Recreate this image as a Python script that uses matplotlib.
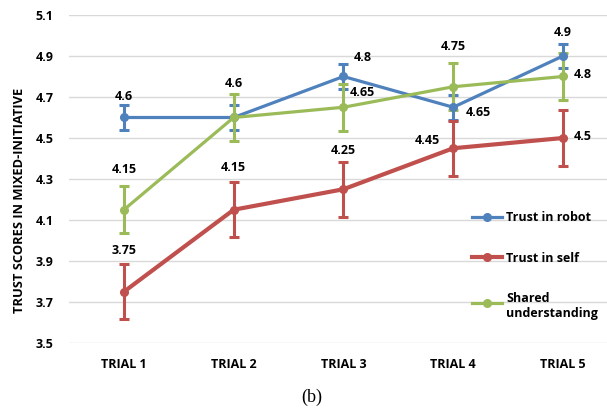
import numpy as np
import matplotlib
matplotlib.use("Agg")
import matplotlib.pyplot as plt
from matplotlib.lines import Line2D
from matplotlib.legend_handler import HandlerLine2D

trials = ["TRIAL 1", "TRIAL 2", "TRIAL 3", "TRIAL 4", "TRIAL 5"]
robot = [4.6, 4.6, 4.8, 4.65, 4.9]
selfs = [3.75, 4.15, 4.25, 4.45, 4.5]
shared = [4.15, 4.6, 4.65, 4.75, 4.8]
robot_err = [0.06, 0.06, 0.06, 0.06, 0.06]
self_err = [0.135, 0.135, 0.135, 0.135, 0.135]
shared_err = [0.115, 0.115, 0.115, 0.115, 0.115]
yticks = [3.5, 3.7, 3.9, 4.1, 4.3, 4.5, 4.7, 4.9, 5.1]

# label offsets in pixels (dx, dy)
robot_off = [(0, 21), None, (19, 19), (25, -5), (0, 23)]
self_off = [(0, 41), (0, 42), (0, 39), (-26, 8), (20, 2)]
shared_off = [(0, 40), (0, 34), (19, 15), (0, 40), (20, 2)]

plt.rcParams['font.family'] = ['Open Sans', 'DejaVu Sans']
plt.rcParams['font.weight'] = 'bold'
plt.rcParams['font.size'] = 9

W, H = 607, 409
fig = plt.figure(figsize=(W/100, H/100), dpi=100)
ax = fig.add_axes([69/W, (H-343)/H, 1-69/W, (343-15)/H])

x = np.arange(len(trials))
series = [
    (robot, robot_err, "#4F81BD", 2.3, "Trust in robot", robot_off),
    (selfs, self_err, "#C0504D", 3.0, "Trust in self", self_off),
    (shared, shared_err, "#9BBB59", 2.3, "Shared\nunderstanding", shared_off),
]
handles = []
for vals, err, col, lw, lab, offs in series:
    ax.errorbar(x, vals, yerr=err, color=col, lw=lw, marker="o", ms=5.5,
                elinewidth=2.2, capsize=3.5, capthick=2.2, zorder=3)
    handles.append(Line2D([], [], color=col, lw=lw, marker="o", ms=5.5, label=lab))
    for xi, v, o in zip(x, vals, offs):
        if o is None:
            continue
        ax.annotate("{:g}".format(v), (xi, v), xytext=o, textcoords="offset pixels",
                    ha="center", va="center", fontsize=9, fontweight="bold", zorder=5)

ax.set_xlim(-0.5, (W-124)/109.75)
ax.set_ylim(3.5, 5.1)
ax.set_yticks(yticks)
ax.set_yticklabels(["{:.1f}".format(t) for t in yticks])
ax.set_xticks(x)
ax.set_xticklabels(trials)
ax.tick_params(length=0)
ax.tick_params(axis="y", pad=11)
ax.tick_params(axis="x", pad=11)
ax.grid(axis="y", color="#D9D9D9", lw=1)
ax.set_axisbelow(True)
for s in ax.spines.values():
    s.set_visible(False)

fig.text(20/W, 1-200/H, "TRUST SCORES IN MIXED-INITIATIVE", rotation=90,
         ha="center", va="center", fontsize=9.3, fontweight="bold")
fig.text(312/W, 1-397/H, "(b)", ha="center", va="center", fontsize=13,
         family="Liberation Serif", fontweight="normal")


class HandlerUp(HandlerLine2D):
    # keep the marker level with the first line of a two-line label
    def create_artists(self, legend, orig_handle, xdescent, ydescent,
                       width, height, fontsize, trans):
        return super().create_artists(legend, orig_handle, xdescent, ydescent - 6,
                                      width, height, fontsize, trans)


leg = ax.legend(handles=handles, loc="upper left", bbox_to_anchor=(466/W, 1-205/H),
                bbox_transform=fig.transFigure, frameon=False, handlelength=2.4,
                handletextpad=0.3, labelspacing=2.2, borderpad=0,
                handler_map={handles[2]: HandlerUp()})

fig.savefig("out.png", dpi=100)
